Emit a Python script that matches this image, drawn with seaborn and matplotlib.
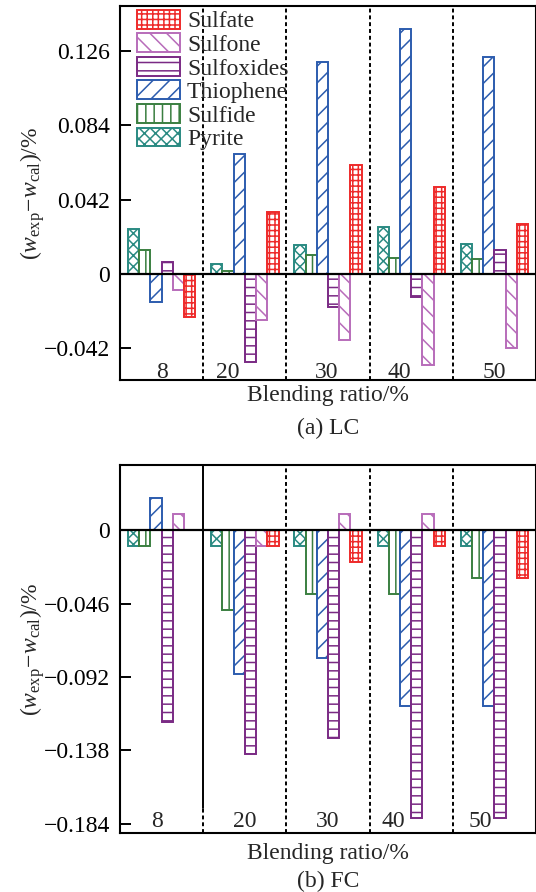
import numpy as np
import pandas as pd
import seaborn as sns
import matplotlib
matplotlib.use("Agg")
import matplotlib.pyplot as plt
from matplotlib.patches import Patch

# ---- data -------------------------------------------------------------
ratios = ["8", "20", "30", "40", "50"]
species = ["Pyrite", "Sulfide", "Thiophene", "Sulfoxides", "Sulfone", "Sulfate"]

# (a) LC : w_exp - w_cal, %
lc_pyrite = [0.0253, 0.0057, 0.0165, 0.0268, 0.0171]
lc_sulfide = [0.0135, 0.0017, 0.0108, 0.0091, 0.0086]
lc_thiophene = [-0.0160, 0.0680, 0.1197, 0.1386, 0.1228]
lc_sulfoxides = [0.0068, -0.0500, -0.0186, -0.0131, 0.0137]
lc_sulfone = [-0.0091, -0.0262, -0.0376, -0.0513, -0.0418]
lc_sulfate = [-0.0245, 0.0353, 0.0616, 0.0490, 0.0285]

# (b) FC : w_exp - w_cal, %
fc_pyrite = [-0.01, -0.01, -0.01, -0.01, -0.01]
fc_sulfide = [-0.01, -0.05, -0.04, -0.04, -0.03]
fc_thiophene = [0.02, -0.09, -0.08, -0.11, -0.11]
fc_sulfoxides = [-0.12, -0.14, -0.13, -0.18, -0.18]
fc_sulfone = [0.01, -0.01, 0.01, 0.01, 0.0]
fc_sulfate = [0.0, -0.01, -0.02, -0.01, -0.03]

lc_ticks = [-0.042, 0, 0.042, 0.084, 0.126]
lc_ticklabels = ["\u22120.042", "0", "0.042", "0.084", "0.126"]
fc_ticks = [-0.184, -0.138, -0.092, -0.046, 0]
fc_ticklabels = ["\u22120.184", "\u22120.138", "\u22120.092", "\u22120.046", "0"]

# ---- style ------------------------------------------------------------
colors = {
    "Pyrite": "#2a8a82",
    "Sulfide": "#3a7f40",
    "Thiophene": "#2c5cae",
    "Sulfoxides": "#7a2a84",
    "Sulfone": "#b86cba",
    "Sulfate": "#ee2a2a",
}
hatches = {
    "Pyrite": "xxx",
    "Sulfide": "||",
    "Thiophene": "//",
    "Sulfoxides": "--",
    "Sulfone": "\\\\",
    "Sulfate": "+++",
}

sns.set_theme(style="ticks")
plt.rcParams["font.family"] = ["Liberation Serif", "DejaVu Serif"]
plt.rcParams["mathtext.fontset"] = "custom"
plt.rcParams["mathtext.rm"] = "Liberation Serif"
plt.rcParams["mathtext.it"] = "Liberation Serif:italic"
plt.rcParams["hatch.linewidth"] = 1.1
plt.rcParams["axes.linewidth"] = 1.5
plt.rcParams["axes.edgecolor"] = "black"

FS = 17


def long_frame(series):
    rows = []
    for name, vals in zip(species, series):
        for r, v in zip(ratios, vals):
            rows.append({"ratio": r, "species": name, "value": v})
    return pd.DataFrame(rows)


def draw_panel(ax, df, ticks, ticklabels, ylim, label_x, label_y, solid_first=False):
    sns.barplot(data=df, x="ratio", y="value", hue="species",
                order=ratios, hue_order=species,
                palette=[colors[s] for s in species],
                width=0.81, saturation=1, errorbar=None, legend=False, ax=ax)
    for cont, name in zip(ax.containers, species):
        for p in cont:
            p.set_facecolor("white")
            p.set_edgecolor(colors[name])
            p.set_hatch(hatches[name])
            p.set_linewidth(1.4)
            p.set_zorder(2)
    ax.set_xlim(-0.5, len(ratios) - 0.5)
    ax.set_ylim(*ylim)
    ax.axhline(0, color="black", lw=1.6, zorder=5)
    for i, xd in enumerate([0.5, 1.5, 2.5, 3.5]):
        if solid_first and i == 0:
            ax.plot([xd, xd], [-0.174, ylim[1]], color="black", lw=1.4, zorder=1)
            ax.plot([xd, xd], [ylim[0], -0.174], color="black", lw=1.4,
                    ls=(0, (2, 1.5)), zorder=1)
        else:
            ax.axvline(xd, color="black", lw=1.4, ls=(0, (2, 1.5)), zorder=1)
    for r, xp in zip(ratios, label_x):
        ax.text(xp, label_y, r, ha="center", va="center", fontsize=FS)
    ax.set_yticks(ticks)
    ax.set_yticklabels(ticklabels)
    ax.tick_params(axis="y", direction="in", length=8, width=1.4,
                   labelsize=FS, pad=7, colors="black")
    ax.tick_params(axis="x", bottom=False, labelbottom=False)
    ax.set_xlabel("")
    ax.set_ylabel(r"$(w_{\mathrm{exp}}\!-\!w_{\mathrm{cal}})/\%$", fontsize=FS)
    ax.yaxis.set_label_coords(-0.175, 0.5)
    for s in ax.spines.values():
        s.set_visible(True)
        s.set_color("black")
        s.set_linewidth(1.5)


fig = plt.figure(figsize=(5.36, 8.92), dpi=100)
ax1 = fig.add_axes([0.2239, 0.574, 0.7761, 0.4191])
ax2 = fig.add_axes([0.2239, 0.0656, 0.7761, 0.4133])

df_lc = long_frame([lc_pyrite, lc_sulfide, lc_thiophene, lc_sulfoxides, lc_sulfone, lc_sulfate])
df_fc = long_frame([fc_pyrite, fc_sulfide, fc_thiophene, fc_sulfoxides, fc_sulfone, fc_sulfate])

draw_panel(ax1, df_lc, lc_ticks, lc_ticklabels, (-0.060, 0.1515),
           [0.0, 0.79, 1.98, 2.86, 4.0], -0.0555)
draw_panel(ax2, df_fc, fc_ticks, fc_ticklabels, (-0.190, 0.0409),
           [-0.06, 1.0, 2.0, 2.78, 3.83], -0.1825, solid_first=True)

handles = [Patch(facecolor="white", edgecolor=colors[s], hatch=hatches[s],
                 lw=1.4, label=s) for s in reversed(species)]
ax1.legend(handles=handles, loc="upper left", bbox_to_anchor=(0.0416, 0.99),
           frameon=False, borderpad=0, borderaxespad=0, handlelength=1.79,
           handleheight=0.85, handletextpad=0.31, labelspacing=0.04, fontsize=FS)

fig.text(328 / 536, 1 - 396 / 892, "Blending ratio/%", ha="center", va="center", fontsize=FS)
fig.text(328 / 536, 1 - 428 / 892, "(a) LC", ha="center", va="center", fontsize=FS)
fig.text(328 / 536, 1 - 854 / 892, "Blending ratio/%", ha="center", va="center", fontsize=FS)
fig.text(328 / 536, 1 - 881 / 892, "(b) FC", ha="center", va="center", fontsize=FS)

fig.savefig("out.png", dpi=100)
